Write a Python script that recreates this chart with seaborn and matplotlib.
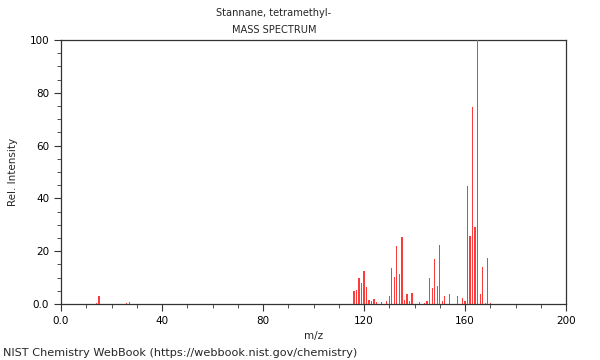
import matplotlib
matplotlib.use("Agg")
import matplotlib.pyplot as plt
from matplotlib.ticker import MultipleLocator, FixedLocator, FixedFormatter
import seaborn as sns
import pandas as pd

mz = [14, 15, 26, 27,
      116, 117, 118, 119, 120, 121, 122, 123, 124, 125, 127,
      129, 130, 131, 132, 133, 134, 135, 136, 137, 138, 139,
      142, 144, 145, 146, 147, 148, 149, 150, 151, 152, 154, 157,
      159, 160, 161, 162, 163, 164, 165, 166, 167, 168, 169, 170]
intensity = [0.5, 3.1, 0.4, 0.8,
             5.0, 5.4, 10.0, 7.8, 12.6, 6.5, 1.5, 1.0, 1.8, 0.8, 0.7,
             1.0, 3.0, 13.5, 10.1, 21.8, 11.4, 25.5, 1.5, 3.8, 1.0, 4.3,
             0.8, 0.5, 1.0, 9.9, 6.2, 17.0, 7.0, 22.3, 1.3, 3.2, 3.9, 3.0,
             2.2, 1.3, 44.7, 25.8, 74.7, 29.3, 100.0, 3.7, 14.1, 0.5, 17.3, 0.5]

x_ticks = [0, 40, 80, 120, 160, 200]
x_labels = ["0.0", "40", "80", "120", "160", "200"]
y_ticks = [0, 20, 40, 60, 80, 100]
y_labels = ["0.0", "20", "40", "60", "80", "100"]

title1 = "Stannane, tetramethyl-"
title2 = "MASS SPECTRUM"
footer = "NIST Chemistry WebBook (https://webbook.nist.gov/chemistry)"

df = pd.DataFrame({"mz": mz, "intensity": intensity})

sns.set_style("ticks")
plt.rcParams["font.family"] = ["DejaVu Sans"]

fig = plt.figure(figsize=(6, 3.6), dpi=100)
ax = fig.add_axes([61 / 600, 1 - 304 / 360, 505 / 600, 264 / 360])

sns.barplot(data=df, x="mz", y="intensity", native_scale=True, width=0.5,
            color="#ff3a3a", errorbar=None, saturation=1, linewidth=0, ax=ax)
for ln in list(ax.lines):
    ln.remove()
for p in list(ax.patches):
    p.set_edgecolor("none")
    p.set_linewidth(0)
    p.set_zorder(3)

ax.set_xlim(0, 200)
ax.set_ylim(0, 100)
ax.xaxis.set_major_locator(FixedLocator(x_ticks))
ax.xaxis.set_major_formatter(FixedFormatter(x_labels))
ax.yaxis.set_major_locator(FixedLocator(y_ticks))
ax.yaxis.set_major_formatter(FixedFormatter(y_labels))
ax.xaxis.set_minor_locator(MultipleLocator(10))
ax.yaxis.set_minor_locator(MultipleLocator(5))
ax.tick_params(axis="both", which="major", direction="out", length=5, width=0.8,
               labelsize=7.5, colors="#333333", labelcolor="black")
ax.tick_params(axis="both", which="minor", direction="out", length=3, width=0.6,
               colors="#333333")
for s in ax.spines.values():
    s.set_visible(True)
    s.set_linewidth(0.9)
    s.set_color("#333333")
    s.set_zorder(2)

ax.set_xlabel("m/z", fontsize=7.5, labelpad=4)
ax.set_ylabel("Rel. Intensity", fontsize=7.5, labelpad=8)

fig.text(274 / 600, 1 - 13 / 360, title1, ha="center", va="center", fontsize=7.1)
fig.text(274 / 600, 1 - 30 / 360, title2, ha="center", va="center", fontsize=7.1)
fig.text(3 / 600, 1 - 353 / 360, footer, ha="left", va="center", fontsize=8.1)

fig.savefig("out.png", dpi=100)
